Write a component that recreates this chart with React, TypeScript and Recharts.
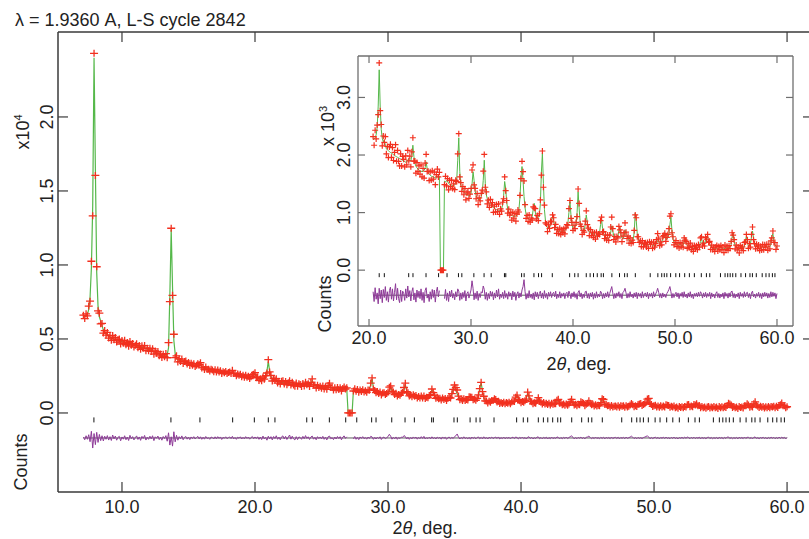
import React from 'react';
import { ComposedChart, Line, Scatter, XAxis, YAxis, ReferenceLine } from 'recharts';

// scan grid (deg 2-theta)
const SCAN_START = 7.1;
const SCAN_STEP = 0.1;

// calculated profile, counts, one row per degree
const calcA = [
  6550, 6500, 6550, 6650, 7000, 7800, 9800, 14000, 24000, 16500,
  9500, 7200, 6500, 6200, 5900, 5600, 5450, 5350, 5280, 5200,
  5120, 5080, 5040, 5000, 4970, 4940, 4910, 4880, 4850, 4820,
  4790, 4760, 4730, 4700, 4680, 4650, 4630, 4600, 4580, 4560,
  4540, 4510, 4490, 4460, 4430, 4400, 4380, 4350, 4320, 4290,
  4260, 4220, 4190, 4150, 4110, 4060, 4020, 3970, 3930, 3890,
  3860, 3840, 3850, 3950, 4400, 8000, 12400, 8500, 4900, 4000,
  3680, 3600, 3560, 3530, 3500, 3470, 3440, 3410, 3380, 3350,
  3320, 3290, 3260, 3240, 3210, 3190, 3220, 3330, 3320, 3130,
  3050, 3020, 3000, 2970, 2940, 2920, 2900, 2880, 2860, 2840,
  2830, 2810, 2800, 2780, 2770, 2750, 2740, 2720, 2710, 2700,
  2690, 2710, 2770, 2720, 2630, 2600, 2580, 2560, 2540, 2520,
  2500, 2480, 2460, 2440, 2420, 2410, 2430, 2490, 2670, 2650,
];
const calcB = [
  2420, 2350, 2290, 2260, 2280, 2300, 2350, 2480, 2850, 3480,
  2830, 2440, 2290, 2230, 2260, 2170, 2110, 2090, 2075, 2060,
  2045, 2030, 2020, 2005, 1995, 1980, 1970, 1960, 1950, 1940,
  1930, 1920, 1905, 1895, 1885, 1875, 1880, 1920, 1930, 1900,
  1895, 1995, 2170, 1975, 1855, 1805, 1778, 1755, 1740, 1728,
  1720, 1712, 1716, 1730, 1780, 1882, 1764, 1696, 1666, 1648,
  1634, 1626, 1620, 1612, 1605, 1600, 1615, 1650, 1620, 0,
  0, 0, 0, 1545, 1530, 1555, 1550, 1505, 1490, 1480,
  1475, 1470, 1470, 1480, 1500, 1570, 1910, 2300, 1710, 1480,
  1440, 1400, 1350, 1335, 1322, 1312, 1302, 1296, 1300, 1330,
  1490, 1710, 1560, 1380, 1300, 1260, 1230, 1225, 1245, 1275,
  1350, 1560, 1910, 1510, 1310, 1240, 1185, 1150, 1160, 1150,
  1115, 1085, 1070, 1060, 1052, 1045, 1040, 1040, 1045, 1065,
  1130, 1300, 1540, 1420, 1180, 1060, 1000, 975, 960, 950,
  940, 935, 935, 940, 955, 985, 1060, 1260, 1620, 1800,
  1560, 1280, 1080, 970, 920, 895, 880, 875, 885, 930,
  1060, 1160, 1010, 920, 900, 920, 950, 1150, 1700, 2030,
  1500, 1050, 860, 770, 740, 735, 745, 790, 880, 930,
  860, 770, 725, 700, 685, 675, 670, 668, 670, 675,
  680, 690, 705, 740, 820, 1000, 1190, 960, 790, 720,
];
const calcC = [
  720, 760, 800, 1000, 1360, 1080, 830, 720, 680, 670,
  700, 790, 960, 840, 700, 660, 665, 630, 610, 640,
  620, 590, 600, 630, 610, 650, 790, 880, 720, 640,
  600, 570, 555, 550, 555, 580, 660, 770, 680, 590,
  555, 540, 545, 580, 700, 740, 620, 555, 540, 580,
  700, 620, 600, 560, 510, 500, 495, 500, 530, 650,
  990, 860, 640, 540, 500, 475, 460, 452, 445, 440,
  436, 434, 432, 440, 462, 470, 445, 430, 428, 430,
  440, 470, 515, 505, 465, 460, 490, 540, 630, 620,
  540, 540, 560, 620, 790, 920, 700, 550, 480, 460,
  465, 440, 430, 445, 450, 425, 420, 440, 500, 550,
  480, 430, 415, 425, 410, 395, 390, 385, 400, 395,
  385, 385, 395, 420, 500, 550, 470, 430, 450, 520,
  580, 590, 500, 450, 420, 395, 385, 380, 375, 372,
  370, 372, 380, 405, 410, 380, 362, 365, 385, 380,
  385, 395, 385, 405, 440, 580, 650, 500, 420, 415,
  380, 360, 360, 380, 395, 375, 380, 420, 520, 580,
  480, 420, 430, 460, 580, 680, 560, 440, 420, 420,
  400, 385, 380, 385, 410, 405, 385, 390, 420, 410,
  395, 420, 410, 450, 590, 630, 500, 440, 420, 390,
];

// obs - calc, counts (null = excluded region)
const residA = [
  60, -120, 150, -90, 220, -250, 450, -680, 300, -450,
  380, -300, 240, -180, 150, -200, 120, -90, 160, -140,
  90, -170, 200, -60, 130, -150, 40, 110, -190, 70,
  -80, 150, -120, 60, -170, 180, -50, 90, -130, 20,
  140, -100, 70, -160, 110, -30, 170, -140, 50, -90,
  120, -60, 150, -180, 80, -20, 130, -110, 60, -150,
  100, -40, 160, -220, 350, -480, 80, -550, 420, -260,
  180, -150, 90, -60, 140, -120, 40, 100, -80, 60,
  -110, 70, -40, 90, -70, 30, 110, -60, 80, -90,
  50, -80, 100, -40, 20, -90, 60, 30, -70, 80,
  -60, 90, -30, 70, -100, 40, -20, 80, -50, 30,
  70, -40, 110, -60, 30, -90, 50, -20, 80, -70,
  40, -60, 90, -30, 60, -80, 20, 100, -50, 70,
];
const residB = [
  -40, 80, -90, 60, -110, 130, -70, 40, -150, 120,
  -60, 90, -130, 100, -40, 150, -90, 60, -120, 80,
  140, -70, 110, -100, 50, 200, -80, 120, -60, -130,
  90, -110, 70, 30, -90, 110, -50, 160, -30, 80,
  -100, 60, 130, -80, 40, -120, 90, -40, 70, -60,
  110, -90, 50, -130, 80, 130, -50, 20, -110, 60,
  -70, 100, -40, 90, -120, 60, 140, -30, 80, null,
  null, null, null, -60, 100, -90, 40, -110, 70, -30,
  90, -50, 30, -80, 60, -30, 110, 70, -90, 40,
  -70, 50, -40, 80, -100, 30, 60, -50, 20, 90,
  250, 120, -80, 40, -60, 70, -90, 30, -40, 60,
  40, 160, 100, -70, 50, -90, 30, -60, 70, -20,
  60, -80, 40, -50, 90, -30, 110, -70, 20, -40,
  50, -60, 80, -40, 30, -70, 60, -20, 40, -80,
  70, -30, 50, -90, 20, 60, -50, 40, -30, 90,
  150, 270, 60, -70, 30, -50, 80, -40, 20, -60,
  40, -80, 60, -30, 50, -60, 30, 70, -50, 40,
  -60, 80, -40, 30, -70, 50, -20, 60, -40, 30,
  50, -30, 70, -60, 20, -40, 60, -50, 30, -20,
  40, -60, 30, 50, -40, 70, 20, -60, 40, -30,
];
const residC = [
  60, -40, 30, -70, 50, 80, -30, 40, -60, 20,
  -40, 60, 70, -50, 30, -60, 40, -30, 50, -70,
  30, -50, 60, -40, 20, -30, 70, 40, -60, 30,
  -50, 40, -30, 60, -40, 30, 90, 150, 40, -60,
  30, -50, 40, -20, 60, -40, 30, -60, 50, 70,
  120, 40, -50, 30, -40, 60, -30, 20, -50, 40,
  -30, 50, -60, 40, -20, 30, -50, 60, -40, 20,
  40, -30, 50, -60, 30, -20, 40, -50, 60, -30,
  20, 60, 120, 50, -40, 30, -50, 40, -30, 20,
  -40, 30, 60, 100, 150, 60, -50, 30, -40, 20,
  50, -30, 40, -60, 30, -20, 50, -40, 60, -30,
  20, -50, 40, -30, 60, -40, 20, -60, 30, -20,
  40, -30, 50, -20, 60, 30, -50, 40, -30, 50,
  -40, 30, -20, 50, -60, 40, -30, 20, -50, 30,
  60, -40, 30, -50, 20, -30, 40, -60, 50, -20,
  30, -50, 40, -30, 60, 70, -40, 30, -50, 20,
  -30, 40, -60, 50, -20, 30, -40, 60, -30, 40,
  50, -40, 30, -60, 40, 70, -30, 20, -50, 30,
  -20, 50, -40, 30, -60, 40, -30, 50, -20, 40,
  -50, 30, -40, 60, -30, 50, -20, 40, -60, 30,
];

// reflection positions (deg 2-theta)
const reflections = [
  7.89, 13.68, 15.86, 18.32, 19.95, 21.0, 21.5, 23.89, 24.31, 25.59,
  26.82, 27.65, 28.77, 29.1, 30.28, 31.28, 31.98, 33.28, 33.41, 34.96,
  35.21, 36.17, 36.62, 36.92, 37.97, 39.67, 40.17, 40.5, 41.3, 41.68,
  42.01, 42.38, 42.76, 42.98, 43.81, 44.56, 45.06, 45.32, 46.11, 47.57,
  48.32, 48.7, 48.95, 49.2, 49.57, 50.08, 50.45, 50.95, 51.41, 51.9,
  52.58, 53.08, 53.41, 54.46, 54.91, 55.17, 55.41, 55.66, 55.96, 56.47,
  56.92, 57.35, 57.59, 57.97, 58.55, 58.92, 59.23, 59.55, 59.8,
];

const mainXTicks = [10, 20, 30, 40, 50, 60];
const mainYTicks = [0, 0.5, 1.0, 1.5, 2.0];
const insetXTicks = [20, 30, 40, 50, 60];
const insetYTicks = [0, 1, 2, 3];

// plotting offsets, counts
const DIFF_BASE_MAIN = -1690;
const DIFF_BASE_INSET = -435;
const TICKROW_MAIN = -470;
const TICKROW_INSET = -87;
const INSET_FROM = 20.4;

const calc = [...calcA, ...calcB, ...calcC];
const resid = [...residA, ...residB, ...residC];

const points = calc.map((c, i) => {
  const r = resid[i];
  return {
    x: Math.round((SCAN_START + i * SCAN_STEP) * 10) / 10,
    calc: c,
    obs: r == null ? c : c + r,
    diff: r,
  };
});

const mainData = points.map((p) => ({
  x: p.x,
  obs: p.obs / 1e4,
  calc: p.calc / 1e4,
  diff: p.diff == null ? null : (p.diff + DIFF_BASE_MAIN) / 1e4,
}));
const insetData = points
  .filter((p) => p.x >= INSET_FROM)
  .map((p) => ({
    x: p.x,
    obs: p.obs / 1e3,
    calc: p.calc / 1e3,
    diff: p.diff == null ? null : (p.diff + DIFF_BASE_INSET) / 1e3,
  }));
const mainRefl = reflections.map((t) => ({ x: t, y: TICKROW_MAIN / 1e4 }));
const insetRefl = reflections.filter((t) => t >= INSET_FROM).map((t) => ({ x: t, y: TICKROW_INSET / 1e3 }));

const FONT = '"Liberation Sans", Arial, Helvetica, sans-serif';
const TEXT = '#222';
const RED = '#f2301f';
const GREEN = '#55b84a';
const PURPLE = '#8e3a98';
const FS = 18;

const plus = (w: number, h: number, sw: number) => (p: any) => {
  if (p.cx == null || p.cy == null) return <g />;
  return (
    <path
      d={`M${p.cx - w},${p.cy}H${p.cx + w}M${p.cx},${p.cy - h}V${p.cy + h}`}
      stroke={RED}
      strokeWidth={sw}
      fill="none"
    />
  );
};
const bar = (h: number) => (p: any) => {
  if (p.cx == null || p.cy == null) return <g />;
  return <path d={`M${p.cx},${p.cy - h}V${p.cy + h}`} stroke="#111" strokeWidth={1} />;
};

const fmt = (v: any) => Number(v).toFixed(1);

const leftTick = (len: number, gap: number, ink: string) => (p: any) => (
  <g>
    <line x1={p.x} y1={p.y} x2={p.x + len} y2={p.y} stroke={ink} strokeWidth={1.2} />
    <text
      x={p.x - gap}
      y={p.y}
      dy="0.36em"
      textAnchor="middle"
      transform={`rotate(-90 ${p.x - gap} ${p.y})`}
      fontSize={FS}
      fontFamily={FONT}
      fill={TEXT}
    >
      {fmt(p.payload.value)}
    </text>
  </g>
);
const rightTick = (len: number, ink: string) => (p: any) => (
  <line x1={p.x - len} y1={p.y} x2={p.x} y2={p.y} stroke={ink} strokeWidth={1.2} />
);
const topTick = (len: number, ink: string) => (p: any) => (
  <line x1={p.x} y1={p.y} x2={p.x} y2={p.y + len} stroke={ink} strokeWidth={1.2} />
);
const bottomTick = (len: number, gap: number, ink: string) => (p: any) => (
  <g>
    <line x1={p.x} y1={p.y} x2={p.x} y2={p.y - len} stroke={ink} strokeWidth={1.2} />
    <text x={p.x} y={p.y + gap} dy="0.36em" textAnchor="middle" fontSize={FS} fontFamily={FONT} fill={TEXT}>
      {fmt(p.payload.value)}
    </text>
  </g>
);

function Label({ x, y, rotate, children, size = 18 }: any) {
  return (
    <div
      style={{
        position: 'absolute',
        left: x,
        top: y,
        transform: `translate(-50%, -50%)${rotate ? ' rotate(-90deg)' : ''}`,
        whiteSpace: 'nowrap',
        fontSize: size,
        lineHeight: 1,
        color: TEXT,
        fontFamily: FONT,
      }}
    >
      {children}
    </div>
  );
}

const MAIN_INK = '#3a3a3a';
const INSET_INK = '#6f6f6f';

export default function App() {
  return (
    <div
      style={{
        position: 'fixed',
        left: 0,
        top: 0,
        width: 809,
        height: 539,
        overflow: 'hidden',
        background: '#fff',
      }}
    >
      <div style={{ position: 'absolute', left: 0, top: 0 }}>
        <ComposedChart width={830} height={539} data={mainData} margin={{ top: 22, right: 7, bottom: 7, left: 8 }}>
          <XAxis
            xAxisId="b"
            dataKey="x"
            type="number"
            domain={[5.19, 61.95]}
            allowDataOverflow
            ticks={mainXTicks}
            interval={0}
            height={40}
            tickSize={0}
            tickMargin={0}
            tickLine={false}
            axisLine={{ stroke: MAIN_INK, strokeWidth: 1.5 }}
            tick={bottomTick(10, 15, MAIN_INK)}
          />
          <XAxis
            xAxisId="t"
            orientation="top"
            dataKey="x"
            type="number"
            domain={[5.19, 61.95]}
            allowDataOverflow
            ticks={mainXTicks}
            interval={0}
            height={10}
            tickSize={0}
            tickMargin={0}
            tickLine={false}
            axisLine={{ stroke: MAIN_INK, strokeWidth: 1.5 }}
            tick={topTick(10, MAIN_INK)}
          />
          <YAxis
            yAxisId="l"
            type="number"
            domain={[-0.534, 2.574]}
            allowDataOverflow
            ticks={mainYTicks}
            interval={0}
            width={50}
            tickSize={0}
            tickMargin={0}
            tickLine={false}
            axisLine={{ stroke: MAIN_INK, strokeWidth: 1.5 }}
            tick={leftTick(10, 11, MAIN_INK)}
          />
          <YAxis
            yAxisId="r"
            orientation="right"
            type="number"
            domain={[-0.534, 2.574]}
            allowDataOverflow
            ticks={mainYTicks}
            interval={0}
            width={10}
            tickSize={0}
            tickMargin={0}
            tickLine={false}
            axisLine={{ stroke: MAIN_INK, strokeWidth: 1.5 }}
            tick={rightTick(10, MAIN_INK)}
          />
          <ReferenceLine
            xAxisId="b"
            yAxisId="l"
            segment={[
              { x: SCAN_START, y: DIFF_BASE_MAIN / 1e4 },
              { x: 60, y: DIFF_BASE_MAIN / 1e4 },
            ]}
            stroke="#333"
            strokeWidth={0.8}
          />
          <Scatter xAxisId="b" yAxisId="l" dataKey="obs" shape={plus(4, 3.5, 1.3)} isAnimationActive={false} />
          <Line
            xAxisId="b"
            yAxisId="l"
            type="linear"
            dataKey="calc"
            stroke={GREEN}
            strokeWidth={1.2}
            dot={false}
            isAnimationActive={false}
          />
          <Line
            xAxisId="b"
            yAxisId="l"
            type="linear"
            dataKey="diff"
            stroke={PURPLE}
            strokeWidth={1}
            dot={false}
            isAnimationActive={false}
          />
          <Scatter xAxisId="b" yAxisId="l" data={mainRefl} dataKey="y" shape={bar(2.5)} isAnimationActive={false} />
        </ComposedChart>
      </div>

      <div style={{ position: 'absolute', left: 290, top: 40 }}>
        <ComposedChart width={520} height={340} data={insetData} margin={{ top: 8, right: 9, bottom: 4, left: 8 }}>
          <XAxis
            xAxisId="b"
            dataKey="x"
            type="number"
            domain={[18.92, 61.57]}
            allowDataOverflow
            ticks={insetXTicks}
            interval={0}
            height={50}
            tickSize={0}
            tickMargin={0}
            tickLine={false}
            axisLine={{ stroke: INSET_INK, strokeWidth: 1.3 }}
            tick={bottomTick(7, 12, INSET_INK)}
          />
          <XAxis
            xAxisId="t"
            orientation="top"
            dataKey="x"
            type="number"
            domain={[18.92, 61.57]}
            allowDataOverflow
            ticks={insetXTicks}
            interval={0}
            height={8}
            tickSize={0}
            tickMargin={0}
            tickLine={false}
            axisLine={{ stroke: INSET_INK, strokeWidth: 1.3 }}
            tick={topTick(7, INSET_INK)}
          />
          <YAxis
            yAxisId="l"
            type="number"
            domain={[-0.97, 3.72]}
            allowDataOverflow
            ticks={insetYTicks}
            interval={0}
            width={60}
            tickSize={0}
            tickMargin={0}
            tickLine={false}
            axisLine={{ stroke: INSET_INK, strokeWidth: 1.3 }}
            tick={leftTick(7, 14, INSET_INK)}
          />
          <YAxis
            yAxisId="r"
            orientation="right"
            type="number"
            domain={[-0.97, 3.72]}
            allowDataOverflow
            ticks={insetYTicks}
            interval={0}
            width={8}
            tickSize={0}
            tickMargin={0}
            tickLine={false}
            axisLine={{ stroke: INSET_INK, strokeWidth: 1.3 }}
            tick={rightTick(7, INSET_INK)}
          />
          <ReferenceLine
            xAxisId="b"
            yAxisId="l"
            segment={[
              { x: INSET_FROM, y: DIFF_BASE_INSET / 1e3 },
              { x: 60, y: DIFF_BASE_INSET / 1e3 },
            ]}
            stroke="#333"
            strokeWidth={0.8}
          />
          <Scatter xAxisId="b" yAxisId="l" dataKey="obs" shape={plus(3, 3, 1.2)} isAnimationActive={false} />
          <Line
            xAxisId="b"
            yAxisId="l"
            type="linear"
            dataKey="calc"
            stroke={GREEN}
            strokeWidth={1}
            dot={false}
            isAnimationActive={false}
          />
          <Line
            xAxisId="b"
            yAxisId="l"
            type="linear"
            dataKey="diff"
            stroke={PURPLE}
            strokeWidth={1}
            dot={false}
            isAnimationActive={false}
          />
          <Scatter xAxisId="b" yAxisId="l" data={insetRefl} dataKey="y" shape={bar(2)} isAnimationActive={false} />
        </ComposedChart>
      </div>

      <div
        style={{
          position: 'absolute',
          left: 15,
          top: 19.5,
          transform: 'translateY(-50%)',
          fontSize: 18,
          lineHeight: 1,
          color: TEXT,
          fontFamily: FONT,
          whiteSpace: 'nowrap',
        }}
      >
        λ = 1.9360 A, L-S cycle 2842
      </div>

      <Label x={22} y={132} rotate>
        x10<sup style={{ fontSize: 11 }}>4</sup>
      </Label>
      <Label x={21} y={462} rotate>
        Counts
      </Label>
      <Label x={425} y={528}>
        2<i>θ</i>, deg.
      </Label>

      <Label x={327} y={126} rotate>
        x 10<sup style={{ fontSize: 11 }}>3</sup>
      </Label>
      <Label x={325} y={304} rotate>
        Counts
      </Label>
      <Label x={579} y={364}>
        2<i>θ</i>, deg.
      </Label>
    </div>
  );
}
